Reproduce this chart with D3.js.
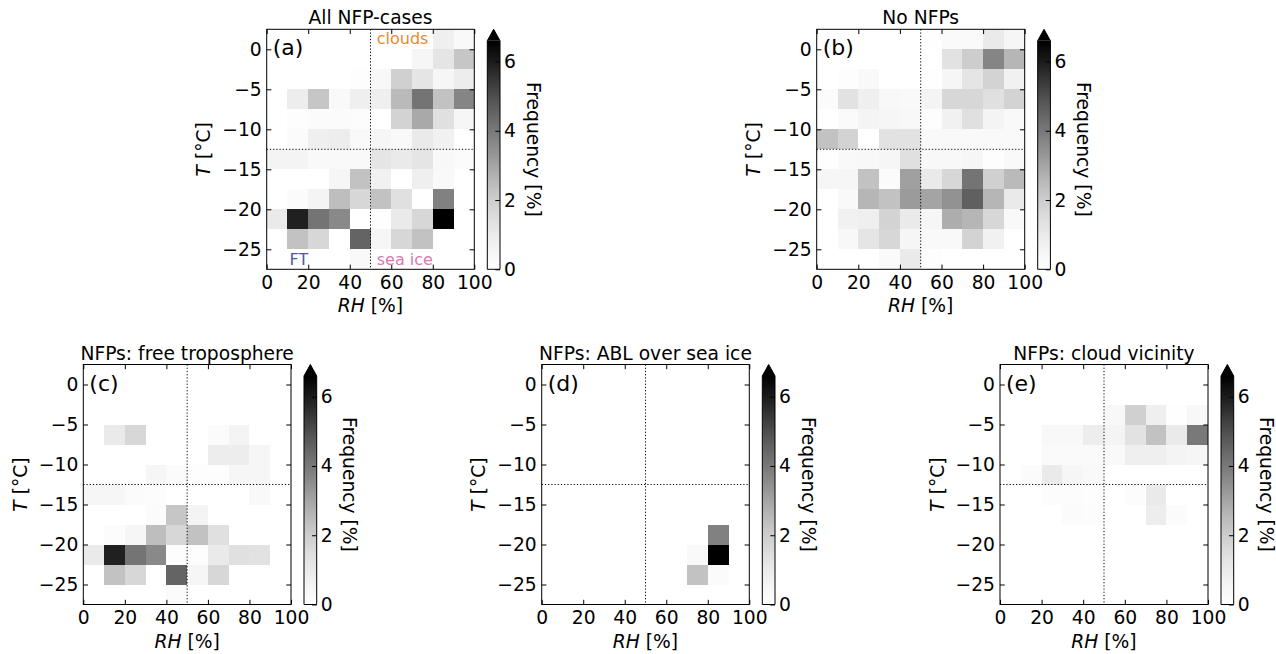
<!DOCTYPE html>
<html>
<head>
<meta charset="utf-8">
<script src="https://cdn.jsdelivr.net/npm/d3@7"></script>
<style>
  body { margin: 0; background: #fff; }
  svg text { font-family: "DejaVu Sans", sans-serif; }
</style>
</head>
<body>
<div id="chart"></div>
<script>
// bin edges
const rhEdges = [0, 10, 20, 30, 40, 50, 60, 70, 80, 90, 100];
const tEdges = [2.5, 0, -2.5, -5, -7.5, -10, -12.5, -15, -17.5, -20, -22.5, -25, -27.5];
const rhTicks = [0, 20, 40, 60, 80, 100];
const tTicks = [0, -5, -10, -15, -20, -25];
const cbTicks = [0, 2, 4, 6];

const titles = ["All NFP-cases", "No NFPs", "NFPs: free troposphere", "NFPs: ABL over sea ice", "NFPs: cloud vicinity"];
const letters = ["(a)", "(b)", "(c)", "(d)", "(e)"];

// frequency [%], rows top (T 0..2.5) to bottom (T -25..-27.5), cols RH 0-10 .. 90-100
const freqAll = [
  [0, 0, 0, 0, 0, 0, 0, 0, 0.8, 0.3],
  [0, 0, 0, 0, 0, 0, 0, 0.5, 1.2, 2.2],
  [0, 0, 0, 0, 0.1, 0.4, 1.9, 1.2, 0.5, 0.9],
  [0, 0.9, 2.2, 0.3, 0.8, 0.8, 2.5, 4.1, 2.3, 3.7],
  [0, 0.1, 0.2, 0.2, 0.15, 0, 1.8, 2.9, 1.4, 0.5],
  [0, 0.2, 0.8, 0.9, 0.35, 0.5, 0.3, 1.0, 0.7, 0],
  [0.6, 0.6, 0.3, 0.3, 0.3, 1.2, 1.0, 1.2, 0.4, 0.2],
  [0, 0, 0, 0.5, 2.3, 0.7, 0, 0.8, 0.3, 0],
  [0, 0.2, 0.6, 2.4, 1.7, 2.3, 1.4, 0, 3.8, 0],
  [1.0, 5.9, 4.1, 3.6, 0, 0.05, 1.0, 1.7, 6.9, 0],
  [0, 2.3, 1.7, 0, 4.5, 0.5, 1.7, 2.3, 0, 0],
  [0, 0, 0, 0, 0.3, 0, 0, 0, 0, 0]
];
const freqNoNFP = [
  [0, 0, 0, 0, 0, 0.05, 0.25, 0.25, 1.0, 0.5],
  [0, 0, 0, 0, 0, 0, 1.3, 2.0, 3.7, 2.6],
  [0, 0.1, 0.3, 0, 0, 0.05, 0.5, 1.2, 1.8, 0.7],
  [0.2, 1.3, 0.8, 0.4, 0.35, 0.6, 1.7, 1.7, 1.4, 1.8],
  [0, 0.25, 0.6, 0.5, 0.4, 0.1, 0.7, 1.4, 0.6, 0.35],
  [2.3, 1.8, 0, 1.3, 1.3, 0.3, 0.3, 0.35, 0.35, 0.35],
  [0.05, 0.3, 0.4, 0.5, 1.4, 0.4, 0.4, 0.5, 0.1, 0.3],
  [0.5, 0.5, 2.3, 0.2, 3.1, 1.0, 1.7, 4.1, 1.9, 2.5],
  [0, 0.35, 2.6, 2.3, 3.2, 3.0, 3.4, 4.6, 2.6, 1.0],
  [0, 0.7, 0.8, 1.8, 1.0, 0.5, 2.8, 2.6, 1.7, 0.35],
  [0, 0.4, 1.2, 1.7, 0.5, 0.3, 0.35, 1.8, 0.7, 0],
  [0, 0, 0, 0.25, 1.0, 0.1, 0, 0, 0, 0]
];
const freqFT = [
  [0, 0, 0, 0, 0, 0, 0, 0, 0, 0],
  [0, 0, 0, 0, 0, 0, 0, 0, 0, 0],
  [0, 0, 0, 0, 0, 0, 0, 0, 0, 0],
  [0, 1.0, 1.7, 0, 0, 0, 0.2, 0.6, 0, 0],
  [0, 0, 0, 0, 0, 0, 0.9, 0.9, 0.5, 0],
  [0, 0, 0, 0.5, 0.2, 0.1, 0.1, 0.5, 0.5, 0],
  [0.5, 0.5, 0.2, 0.15, 0, 0, 0, 0, 0.3, 0],
  [0, 0, 0, 0.2, 2.2, 0.6, 0, 0, 0, 0],
  [0, 0.15, 0.5, 2.4, 1.7, 2.3, 1.4, 0, 0, 0],
  [1.0, 5.9, 4.1, 3.6, 0.1, 0.1, 1.0, 1.4, 1.3, 0],
  [0, 2.3, 1.7, 0, 4.5, 0.5, 1.7, 0, 0, 0],
  [0, 0, 0, 0, 0.2, 0, 0, 0, 0, 0]
];
const freqABL = [
  [0, 0, 0, 0, 0, 0, 0, 0, 0, 0],
  [0, 0, 0, 0, 0, 0, 0, 0, 0, 0],
  [0, 0, 0, 0, 0, 0, 0, 0, 0, 0],
  [0, 0, 0, 0, 0, 0, 0, 0, 0, 0],
  [0, 0, 0, 0, 0, 0, 0, 0, 0, 0],
  [0, 0, 0, 0, 0, 0, 0, 0, 0, 0],
  [0, 0, 0, 0, 0, 0, 0, 0, 0, 0],
  [0, 0, 0, 0, 0, 0, 0, 0, 0, 0],
  [0, 0, 0, 0, 0, 0, 0, 0, 3.8, 0],
  [0, 0, 0, 0, 0, 0, 0, 0.3, 6.9, 0],
  [0, 0, 0, 0, 0, 0, 0, 2.3, 0.2, 0],
  [0, 0, 0, 0, 0, 0, 0, 0, 0, 0]
];
const freqCloud = [
  [0, 0, 0, 0, 0, 0, 0, 0, 0, 0],
  [0, 0, 0, 0, 0, 0, 0, 0, 0, 0],
  [0, 0, 0, 0, 0, 0.4, 1.9, 0.8, 0.05, 0.4],
  [0, 0, 0.4, 0.4, 0.9, 0.6, 1.3, 2.3, 1.0, 4.0],
  [0, 0, 0.25, 0.25, 0.25, 0.35, 0.8, 0.8, 0.6, 0.5],
  [0, 0.2, 1.0, 0.5, 0.3, 0, 0, 0, 0, 0],
  [0, 0, 0.15, 0.15, 0.1, 0, 0.15, 1.0, 0, 0],
  [0, 0, 0, 0.2, 0.15, 0, 0, 0.9, 0.2, 0],
  [0, 0, 0, 0, 0, 0, 0, 0, 0, 0],
  [0, 0, 0, 0, 0, 0, 0, 0, 0, 0],
  [0, 0, 0, 0, 0, 0, 0, 0, 0, 0],
  [0, 0, 0, 0, 0, 0, 0, 0, 0, 0]
];
const panelData = [freqAll, freqNoNFP, freqFT, freqABL, freqCloud];

// regime labels in panel (a): text, RH, T
const regimeNames = ["clouds", "FT", "sea ice"];
const regimeRH = [53, 11, 53];
const regimeT = [0.7, -27, -27];
const regimeColors = ["#ec8a2c", "#4c5aa0", "#d97ab0"];

const vmax = 6.6;

// layout (pixel boxes of each heatmap)
const boxes = [
  {x0: 266.7, x1: 474.3, y0: 29.3, y1: 269.3},
  {x0: 816.7, x1: 1024.7, y0: 29.3, y1: 269.3},
  {x0: 83.3, x1: 291, y0: 364.5, y1: 604.5},
  {x0: 541.7, x1: 749.3, y0: 364.5, y1: 604.5},
  {x0: 1000, x1: 1208, y0: 364.5, y1: 604.5}
];

const W = 1276, H = 654;
const FS = 18.7;
const TICK = 4.7;

const svg = d3.select("#chart").append("svg")
  .attr("width", W)
  .attr("height", H);

const color = d3.scaleSequential(d3.interpolateGreys).domain([0, vmax]).clamp(true);

// shared gradient for the colorbars
const grad = svg.append("defs").append("linearGradient")
  .attr("id", "cbgrad")
  .attr("x1", 0).attr("y1", 1).attr("x2", 0).attr("y2", 0);
d3.range(0, 1.0001, 0.05).forEach(f => {
  grad.append("stop").attr("offset", f).attr("stop-color", color(f * vmax));
});

const styleAxis = (sel) => {
  sel.attr("font-size", FS).attr("font-family", "DejaVu Sans, sans-serif");
  sel.select(".domain").remove();
};

const drawPanel = (k) => {
  const b = boxes[k];
  const data = panelData[k];
  const g = svg.append("g");

  const x = d3.scaleLinear().domain([0, 100]).range([b.x0, b.x1]);
  const y = d3.scaleLinear().domain([-27.5, 2.5]).range([b.y1, b.y0]);

  const cells = [];
  data.forEach((row, i) => row.forEach((v, j) => cells.push({i, j, v})));

  g.selectAll("rect.cell").data(cells).join("rect")
    .attr("class", "cell")
    .attr("x", d => x(rhEdges[d.j]))
    .attr("y", d => y(tEdges[d.i]))
    .attr("width", d => x(rhEdges[d.j + 1]) - x(rhEdges[d.j]))
    .attr("height", d => y(tEdges[d.i + 1]) - y(tEdges[d.i]))
    .attr("fill", d => color(d.v))
    .attr("shape-rendering", "crispEdges");

  // regime separators
  g.append("line")
    .attr("x1", x(50)).attr("x2", x(50))
    .attr("y1", b.y0).attr("y2", b.y1)
    .attr("stroke", "black").attr("stroke-width", 1)
    .style("stroke-dasharray", ("1.2, 2"));
  g.append("line")
    .attr("x1", b.x0).attr("x2", b.x1)
    .attr("y1", y(-12.5)).attr("y2", y(-12.5))
    .attr("stroke", "black").attr("stroke-width", 1)
    .style("stroke-dasharray", ("1.2, 2"));

  // axes, ticks inward on all sides
  g.append("g")
    .attr("transform", `translate(0,${b.y1})`)
    .call(d3.axisBottom(x).tickValues(rhTicks).tickSizeInner(-TICK).tickSizeOuter(0).tickPadding(6.6))
    .call(styleAxis);
  g.append("g")
    .attr("transform", `translate(${b.x0},0)`)
    .call(d3.axisLeft(y).tickValues(tTicks).tickSizeInner(-TICK).tickSizeOuter(0).tickPadding(5))
    .call(styleAxis);
  g.append("g")
    .attr("transform", `translate(0,${b.y0})`)
    .call(d3.axisTop(x).tickValues(rhTicks).tickSizeInner(-TICK).tickSizeOuter(0).tickFormat(""))
    .call(styleAxis);
  g.append("g")
    .attr("transform", `translate(${b.x1},0)`)
    .call(d3.axisRight(y).tickValues(tTicks).tickSizeInner(-TICK).tickSizeOuter(0).tickFormat(""))
    .call(styleAxis);

  g.append("rect")
    .attr("x", b.x0).attr("y", b.y0)
    .attr("width", b.x1 - b.x0).attr("height", b.y1 - b.y0)
    .attr("fill", "none").attr("stroke", "black").attr("stroke-width", 1);

  // title, letter
  g.append("text")
    .attr("x", (b.x0 + b.x1) / 2).attr("y", b.y0 - 5)
    .attr("text-anchor", "middle")
    .style("font-size", FS + "px")
    .text(titles[k]);
  g.append("text")
    .attr("x", b.x0 + 6).attr("y", b.y0 + 26)
    .style("font-size", "22px")
    .text(letters[k]);

  // axis labels
  const xl = g.append("text")
    .attr("x", (b.x0 + b.x1) / 2).attr("y", b.y1 + 43)
    .attr("text-anchor", "middle")
    .style("font-size", FS + "px");
  xl.append("tspan").style("font-style", "italic").text("RH");
  xl.append("tspan").text(" [%]");

  const yl = g.append("text")
    .attr("transform", `translate(${b.x0 - 63.5},${(b.y0 + b.y1) / 2}) rotate(-90)`)
    .attr("text-anchor", "middle")
    .attr("dominant-baseline", "central")
    .style("font-size", FS + "px");
  yl.append("tspan").style("font-style", "italic").text("T");
  yl.append("tspan").text(" [°C]");

  // colorbar with max extension
  const cb0 = b.x1 + 13, cb1 = cb0 + 12.7;
  const L = (b.y1 - b.y0) / 1.05;
  const cy = d3.scaleLinear().domain([0, vmax]).range([b.y1, b.y1 - L]);
  g.append("rect")
    .attr("x", cb0).attr("y", cy(vmax))
    .attr("width", cb1 - cb0).attr("height", cy(0) - cy(vmax))
    .attr("fill", "url(#cbgrad)");
  g.append("path")
    .attr("d", `M${cb0},${cy(vmax)} L${cb1},${cy(vmax)} L${(cb0 + cb1) / 2},${b.y0} Z`)
    .attr("fill", color(vmax));
  g.append("path")
    .attr("d", `M${cb0},${b.y1} L${cb0},${cy(vmax)} L${(cb0 + cb1) / 2},${b.y0} L${cb1},${cy(vmax)} L${cb1},${b.y1} Z`)
    .attr("fill", "none").attr("stroke", "black").attr("stroke-width", 1);
  g.append("g")
    .attr("transform", `translate(${cb1},0)`)
    .call(d3.axisRight(cy).tickValues(cbTicks).tickFormat(d3.format("d"))
      .tickSizeInner(-TICK).tickSizeOuter(0).tickPadding(4))
    .call(styleAxis);
  g.append("text")
    .attr("transform", `translate(${cb1 + 33},${(b.y0 + b.y1) / 2}) rotate(90)`)
    .attr("text-anchor", "middle")
    .attr("dominant-baseline", "central")
    .style("font-size", FS + "px")
    .text("Frequency [%]");

  if (k === 0) {
    regimeNames.forEach((name, n) => {
      g.append("text")
        .attr("x", x(regimeRH[n])).attr("y", y(regimeT[n]))
        .attr("fill", regimeColors[n])
        .style("font-size", "16px")
        .text(name);
    });
  }
};

d3.range(5).forEach(drawPanel);
</script>
</body>
</html>
